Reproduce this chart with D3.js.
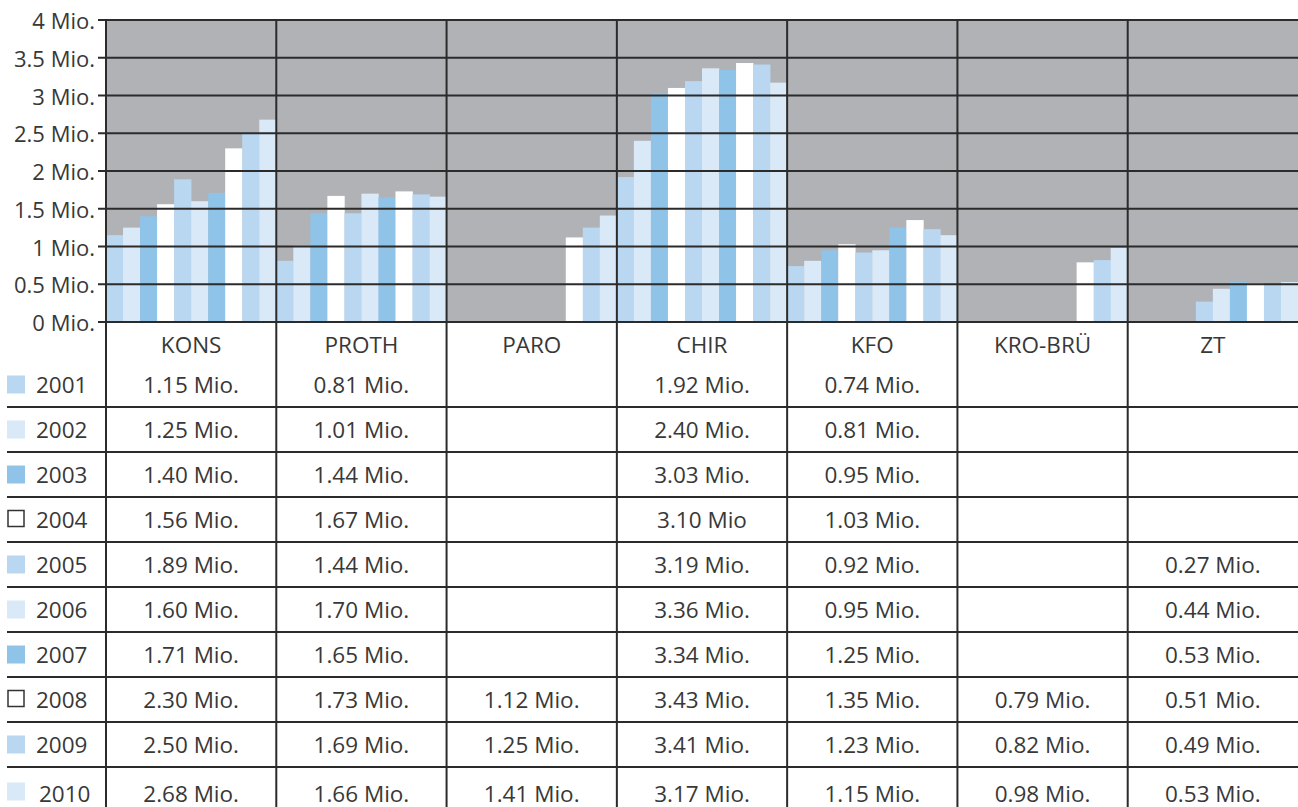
<!DOCTYPE html>
<html><head><meta charset="utf-8">
<script src="https://cdn.jsdelivr.net/npm/d3@7"></script>
<style>
html,body{margin:0;padding:0;background:#fff;}
svg{display:block;font-family:"Open Sans",sans-serif;}
</style></head>
<body>
<svg id="chart" width="1298" height="807"></svg>
<script>
const categories = ["KONS","PROTH","PARO","CHIR","KFO","KRO-BRÜ","ZT"];
const years = ["2001","2002","2003","2004","2005","2006","2007","2008","2009","2010"];
const yearColors = ["#b9d7f0","#dae9f7","#8fc3e8","#ffffff","#b9d7f0","#dae9f7","#8fc3e8","#ffffff","#b9d7f0","#dae9f7"];
const KONS  = [1.15,1.25,1.40,1.56,1.89,1.60,1.71,2.30,2.50,2.68];
const PROTH = [0.81,1.01,1.44,1.67,1.44,1.70,1.65,1.73,1.69,1.66];
const PARO  = [null,null,null,null,null,null,null,1.12,1.25,1.41];
const CHIR  = [1.92,2.40,3.03,3.10,3.19,3.36,3.34,3.43,3.41,3.17];
const KFO   = [0.74,0.81,0.95,1.03,0.92,0.95,1.25,1.35,1.23,1.15];
const KROBRU= [null,null,null,null,null,null,null,0.79,0.82,0.98];
const ZT    = [null,null,null,null,0.27,0.44,0.53,0.51,0.49,0.53];
const seriesByCategory = [KONS,PROTH,PARO,CHIR,KFO,KROBRU,ZT];
// labels as printed in the table (one oddity: "3.10 Mio" without dot)
const labelOverrides = {"CHIR|2004":"3.10 Mio"};
const yTicks = [0,0.5,1,1.5,2,2.5,3,3.5,4];
const tickLabels = ["0 Mio.","0.5 Mio.","1 Mio.","1.5 Mio.","2 Mio.","2.5 Mio.","3 Mio.","3.5 Mio.","4 Mio."];

const svg = d3.select("#chart");
const W = 1298, H = 807;
const plotL = 106, plotR = 1298, plotT = 20, plotB = 322;
const lineColor = "#2b2b2b", textColor = "#383838";

const x = d3.scaleBand().domain(categories).range([plotL, plotR]).padding(0);
const xi = d3.scaleBand().domain(years).range([0, x.bandwidth()]).padding(0);
const y = d3.scaleLinear().domain([0,4]).range([plotB, plotT]);

// background
svg.append("rect").attr("x",plotL).attr("y",plotT).attr("width",plotR-plotL).attr("height",plotB-plotT).attr("fill","#b1b2b6");

// bars
categories.forEach((c,ci)=>{
  const g = svg.append("g").attr("transform",`translate(${x(c)},0)`);
  g.selectAll("rect").data(seriesByCategory[ci].map((v,i)=>({v,i})).filter(d=>d.v!=null))
    .join("rect")
    .attr("x",d=>xi(years[d.i]))
    .attr("width",xi.bandwidth()+0.3)
    .attr("y",d=>y(d.v))
    .attr("height",d=>y(0)-y(d.v))
    .attr("fill",d=>yearColors[d.i]);
});

// gridlines + ticks
svg.append("g").selectAll("line").data(yTicks).join("line")
  .attr("x1",plotL-8).attr("x2",plotR)
  .attr("y1",d=>y(d)).attr("y2",d=>y(d))
  .attr("stroke",lineColor).attr("stroke-width",2);
svg.append("g").selectAll("text").data(yTicks).join("text")
  .attr("x",plotL-11).attr("y",d=>y(d))
  .attr("text-anchor","end").attr("dominant-baseline","central")
  .attr("font-size",22).attr("fill",textColor)
  .text((d,i)=>tickLabels[i]);

// table
const rows = d3.scaleBand().domain(years).range([362, 812]).padding(0);
// header
svg.append("g").selectAll("text").data(categories).join("text")
  .attr("x",d=>x(d)+x.bandwidth()/2).attr("y",344)
  .attr("text-anchor","middle").attr("dominant-baseline","central")
  .attr("font-size",22.5).attr("fill",textColor).text(d=>d);

// row lines
svg.append("g").selectAll("line").data(years.slice(0,-1)).join("line")
  .attr("x1",7).attr("x2",W)
  .attr("y1",d=>rows(d)+rows.bandwidth()).attr("y2",d=>rows(d)+rows.bandwidth())
  .attr("stroke",lineColor).attr("stroke-width",2);

// vertical lines
const vx = [plotL].concat(categories.slice(1).map(c=>x(c)));
svg.append("g").selectAll("line").data(vx).join("line")
  .attr("x1",d=>d).attr("x2",d=>d).attr("y1",plotT).attr("y2",H)
  .attr("stroke",lineColor).attr("stroke-width",2);

// legend swatches + year labels
const leg = svg.append("g");
years.forEach((yr,i)=>{
  const cy = rows(yr)+rows.bandwidth()/2;
  const white = yearColors[i]==="#ffffff";
  leg.append("rect").attr("x",white?8:7).attr("y",cy-9+(i===9?2:0)).attr("width",white?16:18).attr("height",white?16:18)
    .attr("fill",yearColors[i]).attr("stroke",white?"#333":"none").attr("stroke-width",white?1.5:0);
  leg.append("text").attr("x",i===9?39:36).attr("y",cy+(i===9?4:0)).attr("dominant-baseline","central")
    .attr("font-size",22.5).attr("fill",textColor).text(yr);
});

// values
categories.forEach((c,ci)=>{
  seriesByCategory[ci].forEach((v,i)=>{
    if(v==null) return;
    const cy = rows(years[i])+rows.bandwidth()/2 + (i===9?4:0);
    const lbl = labelOverrides[c+"|"+years[i]] || (v.toFixed(2)+" Mio.");
    svg.append("text").attr("x",x(c)+x.bandwidth()/2).attr("y",cy)
      .attr("text-anchor","middle").attr("dominant-baseline","central")
      .attr("font-size",22.5).attr("fill",textColor).text(lbl);
  });
});
</script>
</body></html>
